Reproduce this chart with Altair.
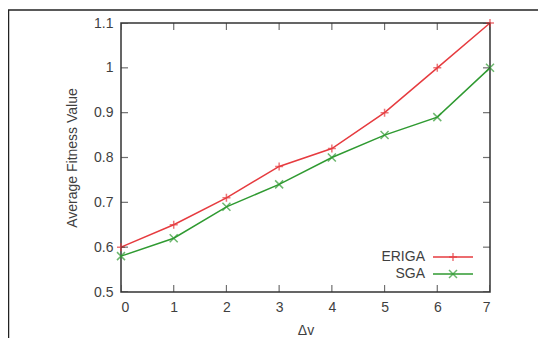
import altair as alt
import pandas as pd

x_vals = [0, 1, 2, 3, 4, 5, 6, 7]
series_names = ["ERIGA", "SGA"]
eriga = [0.60, 0.65, 0.71, 0.78, 0.82, 0.90, 1.00, 1.10]
sga = [0.58, 0.62, 0.69, 0.74, 0.80, 0.85, 0.89, 1.00]
y_ticks = [0.5, 0.6, 0.7, 0.8, 0.9, 1.0, 1.1]
x_ticks = [0, 1, 2, 3, 4, 5, 6, 7]
colors = ["#e63b3f", "#2f9a31"]

rows = []
for name, vals in zip(series_names, [eriga, sga]):
    for xv, yv in zip(x_vals, vals):
        rows.append({"x": xv, "series": name, "value": yv})
df = pd.DataFrame(rows)
legend_df = pd.DataFrame({"series": series_names})
ytick_df = pd.DataFrame({"value": y_ticks})
xtick_df = pd.DataFrame({"x": x_ticks})
one = pd.DataFrame({"a": [0]})

W, H = 369, 269
FONT = "Liberation Sans"
TXT = "#3f3f3f"
FRAME = "#333333"

xscale = alt.Scale(domain=[0, 7], nice=False, zero=False)
yscale = alt.Scale(domain=[0.5, 1.1], nice=False, zero=False)
cscale = alt.Scale(domain=series_names, range=colors)
plus_path = "M-1,0L1,0M0,-1L0,1"
x_path = "M-1,-1L1,1M-1,1L1,-1"
sscale = alt.Scale(domain=series_names, range=[plus_path, x_path])

X = alt.X("x:Q", scale=xscale,
          axis=alt.Axis(values=x_ticks, title="Δv", ticks=False, domain=False, grid=False,
                        labelPadding=8, titlePadding=9, format="d"))
Y = alt.Y("value:Q", scale=yscale,
          axis=alt.Axis(values=y_ticks, title="Average Fitness Value", ticks=False, domain=False,
                        grid=False, labelPadding=8, titlePadding=14, format=".1~f"))
Xp = alt.X("x:Q", scale=xscale)
Yp = alt.Y("value:Q", scale=yscale)

lines = alt.Chart(df).mark_line(strokeWidth=1.5).encode(
    x=X, y=Y, color=alt.Color("series:N", scale=cscale, legend=None)
)
points = alt.Chart(df).mark_point(filled=False, strokeWidth=1.5, size=64).encode(
    x=Xp, y=Yp,
    color=alt.Color("series:N", scale=cscale, legend=None),
    shape=alt.Shape("series:N", scale=sscale, legend=None),
)

tick_kw = dict(size=14, thickness=1.2, color=FRAME, clip=True)
yt_left = alt.Chart(ytick_df).mark_tick(**tick_kw).encode(x=alt.value(0), y=Yp)
yt_right = alt.Chart(ytick_df).mark_tick(**tick_kw).encode(x=alt.value(W), y=Yp)
xt_bot = alt.Chart(xtick_df).mark_tick(**tick_kw).encode(y=alt.value(H), x=Xp)
xt_top = alt.Chart(xtick_df).mark_tick(**tick_kw).encode(y=alt.value(0), x=Xp)

legend_layers = []
for name, ypos in zip(series_names, [234, 251]):
    base = alt.Chart(legend_df).transform_filter(alt.datum.series == name)
    legend_layers.append(base.mark_text(
        align="right", baseline="middle", font=FONT, fontSize=14, color=TXT
    ).encode(x=alt.value(304), y=alt.value(ypos), text="series:N"))
    legend_layers.append(base.mark_rule(strokeWidth=1.5).encode(
        x=alt.value(312), x2=alt.value(352), y=alt.value(ypos),
        color=alt.Color("series:N", scale=cscale, legend=None)))
    legend_layers.append(base.mark_point(filled=False, strokeWidth=1.5, size=64).encode(
        x=alt.value(332), y=alt.value(ypos),
        color=alt.Color("series:N", scale=cscale, legend=None),
        shape=alt.Shape("series:N", scale=sscale, legend=None)))

frame_top = alt.Chart(one).mark_rule(color="#222222", strokeWidth=1.5).encode(
    x=alt.value(-113), x2=alt.value(600), y=alt.value(-13))
frame_left = alt.Chart(one).mark_rule(color="#222222", strokeWidth=1.5).encode(
    x=alt.value(-112.5), y=alt.value(-13), y2=alt.value(400))

chart = alt.layer(
    lines, points, yt_left, yt_right, xt_bot, xt_top,
    *legend_layers, frame_top, frame_left
).properties(
    width=W, height=H,
    autosize=alt.AutoSizeParams(type="none"),
    padding={"left": 113, "top": 15, "right": 48, "bottom": 46},
).configure_view(
    stroke=FRAME, strokeWidth=1.5
).configure_axis(
    labelFont=FONT, titleFont=FONT, labelFontSize=14, titleFontSize=14,
    labelColor=TXT, titleColor=TXT, titleFontWeight="normal"
)

chart.save("out.html", embed_options={"renderer": "svg", "actions": False})
